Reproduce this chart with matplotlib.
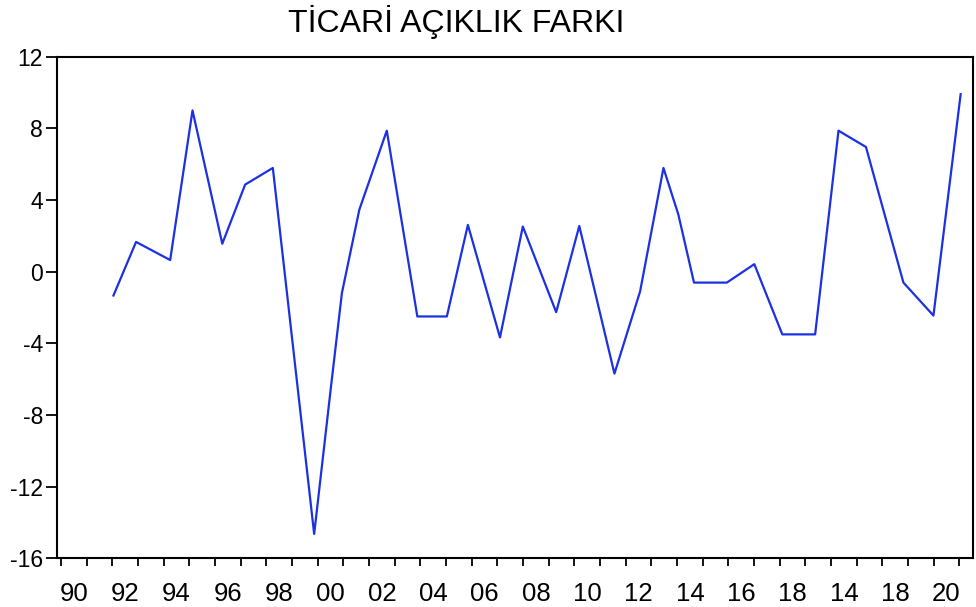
import matplotlib
matplotlib.use("Agg")
import matplotlib.pyplot as plt

# Serie: ticari açıklık farkı
yillar = [1992.04, 1992.92, 1994.25, 1995.12, 1996.28, 1997.17, 1998.25, 1999.86,
          2000.51, 2000.94, 2001.62, 2002.69, 2003.88, 2005.03, 2005.85, 2007.10,
          2007.99, 2009.29, 2010.19, 2011.56, 2012.56, 2013.47, 2014.05, 2014.66,
          2015.94, 2017.01, 2018.10, 2019.38, 2020.29, 2021.36, 2022.82, 2023.99,
          2025.05]
degerler = [-1.33, 1.66, 0.65, 9.0, 1.56, 4.86, 5.79, -14.64,
            -6.49, -1.2, 3.46, 7.87, -2.5, -2.5, 2.61, -3.67,
            2.52, -2.26, 2.55, -5.69, -1.1, 5.79, 3.19, -0.61,
            -0.61, 0.42, -3.5, -3.5, 7.87, 6.96, -0.61, -2.45,
            9.91]

# Eksen etiketleri (orijinaldeki gibi)
yil_tikleri = list(range(1990, 2026))
etiket_yillari = list(range(1990, 2026, 2))
etiketler = ['90', '92', '94', '96', '98', '00', '02', '04', '06', '08',
             '10', '12', '14', '16', '18', '14', '18', '20']
y_tikleri = [-16, -12, -8, -4, 0, 4, 8, 12]

plt.rcParams['font.family'] = ['Liberation Sans', 'DejaVu Sans']

fig = plt.figure(figsize=(9.76, 6.07), dpi=100)
ax = fig.add_axes([0.0584, 0.0802, 0.9385, 0.8264])

ax.plot(yillar, degerler, color='#1c30e4', linewidth=1.6)

ax.set_xlim(1989.84, 2025.53)
ax.set_ylim(-16, 12)

# yıl sınırlarında tik, etiketler yıl ortasında
ax.set_xticks(yil_tikleri)
ax.set_xticklabels([])
ax.set_xticks([y + 0.5 for y in etiket_yillari], minor=True)
ax.set_xticklabels(etiketler, minor=True, fontsize=18.5)
ax.tick_params(axis='x', which='major', direction='out', length=6, width=1.3)
ax.tick_params(axis='x', which='minor', length=0, pad=17)

ax.set_yticks(y_tikleri)
ax.set_yticklabels([str(v) for v in y_tikleri], fontsize=16.5)
ax.tick_params(axis='y', direction='out', length=8, width=1.3, pad=2)

for s in ax.spines.values():
    s.set_linewidth(1.5)
    s.set_color('black')

fig.text(456 / 976, 1 - 22 / 607, 'TİCARİ AÇIKLIK FARKI', ha='center', va='center',
         fontsize=23)

fig.savefig('out.png', dpi=100)
